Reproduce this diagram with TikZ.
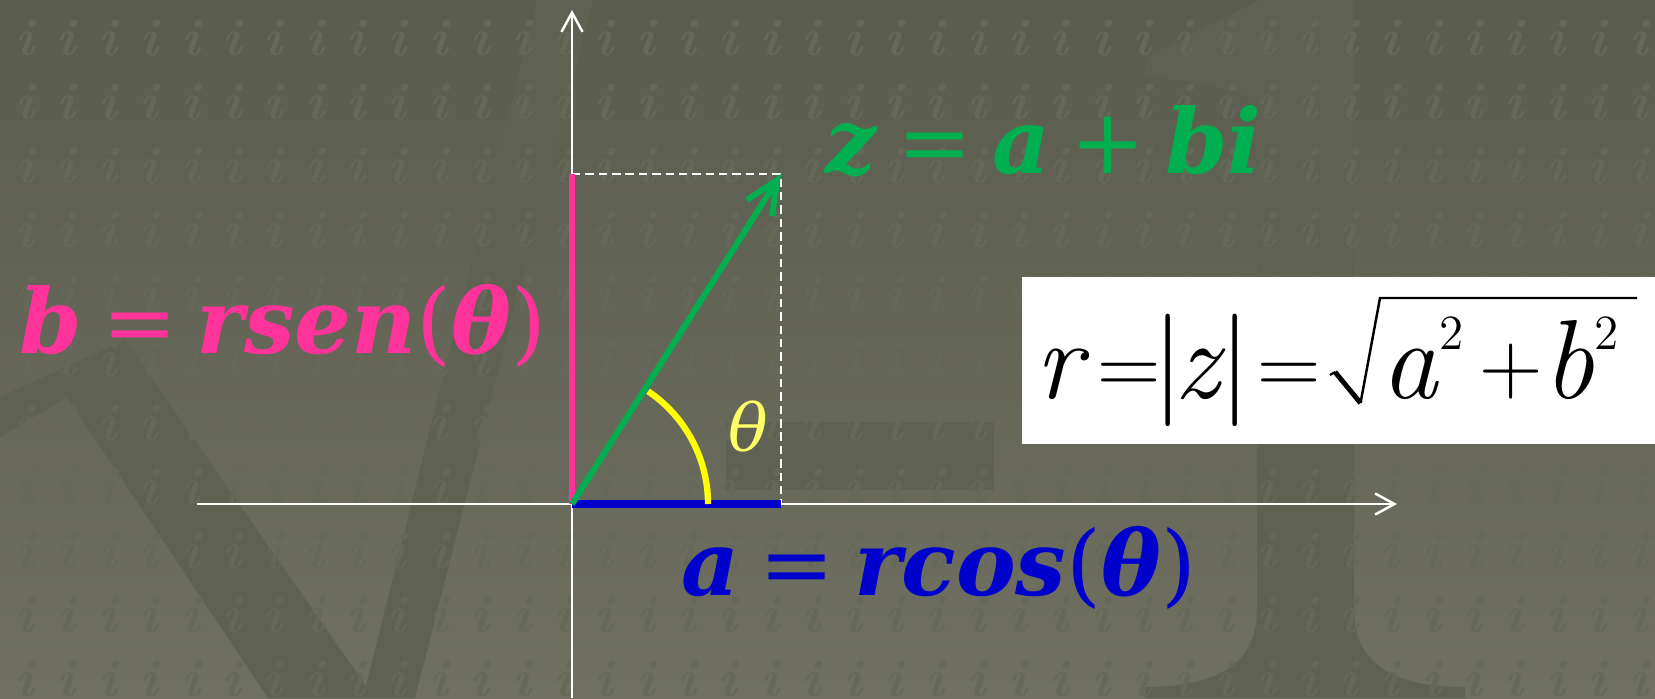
\documentclass[tikz,border=0pt]{standalone}
\usepackage{fontspec}
\usepackage{tikz}
\usetikzlibrary{arrows.meta,positioning,calc}
\usepackage{xcolor}
\newfontfamily\labelfont{DejaVu Serif}
\newcommand{\bvar}[1]{\textbf{\textit{#1}}}
\newcommand{\gap}{\hspace{0.22em}}
\newcommand{\sqd}{\raisebox{0.43em}{\fontsize{14}{14}\selectfont 2}}
\definecolor{bgtop}{HTML}{5A5C4E}
\definecolor{bgbot}{HTML}{6F7061}
\definecolor{glyphc}{HTML}{5F6152}
\definecolor{ipatc}{HTML}{66685A}
\definecolor{pinkb}{HTML}{FF3399}
\definecolor{greenz}{HTML}{00B050}
\definecolor{bluea}{HTML}{0000CC}
\definecolor{yellowarc}{HTML}{FFFF00}
\definecolor{thetac}{HTML}{FFFF66}

\begin{document}
\begin{tikzpicture}[
  ipat/.style={text=ipatc, inner sep=0pt,
               font=\bfseries\itshape\fontsize{15}{15}\selectfont},
  axis/.style={draw=white, line width=0.7pt,
               -{Straight Barb[length=5.5pt,width=6pt]}},
  guide/.style={draw=white, line width=0.6pt, dash pattern=on 2.4pt off 1.4pt},
  lbl/.style={anchor=base west, inner sep=0pt,
              font=\labelfont\fontsize{25.5}{27}\selectfont},
  formula/.style={anchor=base west, inner sep=0pt,
                  font=\fontsize{32}{34}\selectfont},
  op/.style={anchor=base, inner sep=0pt, font=\fontsize{25}{25}\selectfont},
  every node/.style={align=center}
]

%% Background
\useasboundingbox (0,0) rectangle (16.55,6.98);
\clip (0,0) rectangle (16.55,6.98);
\shade[top color=bgtop, bottom color=bgbot] (0,0) rectangle (16.55,6.98);

%% Faint root of minus one
\fill[glyphc] (0,3.01) -- (1.25,3.58) -- (3.66,0.12) -- (5.37,6.98) -- (5.93,6.98)
  -- (4.15,0) -- (2.68,0) -- (0.67,3.01) -- (0,2.61) -- cycle;
\fill[glyphc] (7.26,2.08) rectangle (9.94,2.76);
\fill[glyphc] (11.45,6.40) -- (12.6,6.98) -- (13.54,6.98) -- (13.54,0.88)
  .. controls (13.54,0.3) and (14.0,0.11) .. (14.65,0.11) -- (14.65,0)
  -- (11.45,0) -- (11.45,0.11)
  .. controls (12.1,0.11) and (12.57,0.3) .. (12.57,0.88) -- (12.57,5.98)
  .. controls (12.3,6.1) .. (11.45,6.22) -- cycle;

%% Pattern of i
\foreach \c in {0,...,39}{
  \foreach \r in {0,...,10}{
    \node[ipat] (i-\c-\r) at ({0.25+0.4137*\c},{6.60-0.641*\r}) {i};
  }
}

%% Axes
\coordinate (O)  at (5.72,1.94);
\coordinate (P)  at (7.81,5.24);
\coordinate (Pb) at (5.72,5.24);
\coordinate (Pa) at (7.81,1.94);
\coordinate (xl) at (1.97,1.94);
\coordinate (xr) at (13.97,1.94);
\coordinate (yb) at (5.72,0);
\coordinate (yt) at (5.72,6.88);
\draw[axis] (xl) -- (xr);
\draw[axis] (yb) -- (yt);

%% Projections
\draw[guide] (Pb) -- (P) -- (Pa);
\draw[pinkb, line width=1.9pt] (O) -- (Pb);
\draw[bluea, line width=2.3pt] (O) -- (Pa);
\draw[yellowarc, line width=1.8pt] ($(O)+(1.36,0)$) arc[start angle=0, end angle=56, radius=1.36];
\draw[greenz, line width=1.7pt, -{Straight Barb[length=9.4pt,width=8.5pt]}] (O) -- (P);

%% Labels
\node[lbl, text=pinkb]  (lb) at (0.19,3.45) {\bvar{b}\gap=\gap\bvar{rsen}(\bvar{θ})};
\node[lbl, text=greenz] (lz) at (8.25,5.25) {\bvar{z}\gap=\gap\bvar{a}\gap+\gap\bvar{bi}};
\node[lbl, text=bluea]  (la) at (6.81,1.03) {\bvar{a}\gap=\gap\bvar{rcos}(\bvar{θ})};
\node[text=thetac, inner sep=0pt, font=\labelfont\itshape\fontsize{18.7}{19}\selectfont]
     (th) at (7.48,2.71) {θ};

%% Modulus
\node[fill=white, minimum width=6.33cm, minimum height=1.67cm, inner sep=0pt]
     (rbox) at (13.385,3.375) {};
\node[formula] (fr)    at (10.35,3.00)  {\textit{r}};
\node[op]      (feq1)  at (11.29,3.04)  {=};
\node[formula] (fmod)  at (11.515,3.00) {|\hspace{-0.08em}\textit{z}\hspace{-0.06em}|};
\node[op]      (feq2)  at (12.89,3.04)  {=};
\node[formula] (fa)    at (13.81,3.00)  {\textit{a}\sqd};
\node[op]      (fplus) at (15.11,3.05)  {+};
\node[formula] (fb)    at (15.43,3.00)  {\textit{b}\sqd};
\coordinate (rt) at (13.30,3.23);
\coordinate (rk) at (13.35,3.26);
\coordinate (rv) at (13.605,2.95);
\coordinate (rh) at (13.80,4.00);
\coordinate (re) at (16.37,4.00);
\draw[line width=0.6pt] (rt) -- (rk);
\draw[line width=1.4pt] (rk) -- (rv);
\draw[line width=0.7pt] (rv) -- (rh) -- (re);

\end{tikzpicture}
\end{document}
